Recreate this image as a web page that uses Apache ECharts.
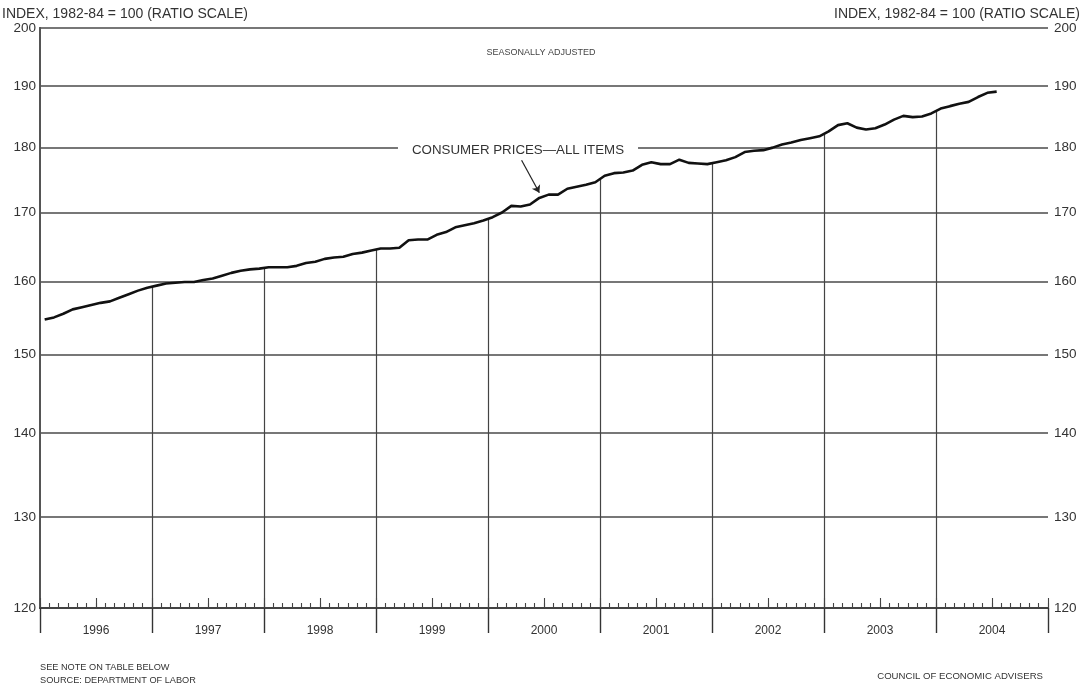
<!DOCTYPE html>
<html><head><meta charset="utf-8">
<script src="https://cdn.jsdelivr.net/npm/echarts@6/dist/echarts.min.js"></script>
<style>html,body{margin:0;padding:0;background:#fff}#c{width:1082px;height:688px}</style>
</head><body><div id="c"></div>
<script>
const years = ['1996','1997','1998','1999','2000','2001','2002','2003','2004'];
const cpi1996 = [154.7,155.0,155.5,156.1,156.4,156.7,157.0,157.2,157.7,158.2,158.7,159.1];
const cpi1997 = [159.4,159.7,159.8,159.9,159.9,160.2,160.4,160.8,161.2,161.5,161.7,161.8];
const cpi1998 = [162.0,162.0,162.0,162.2,162.6,162.8,163.2,163.4,163.5,163.9,164.1,164.4];
const cpi1999 = [164.7,164.7,164.8,165.9,166.0,166.0,166.7,167.1,167.8,168.1,168.4,168.8];
const cpi2000 = [169.3,170.0,171.0,170.9,171.2,172.2,172.7,172.7,173.6,173.9,174.2,174.6];
const cpi2001 = [175.6,176.0,176.1,176.4,177.3,177.7,177.4,177.4,178.1,177.6,177.5,177.4];
const cpi2002 = [177.7,178.0,178.5,179.3,179.5,179.6,180.0,180.5,180.8,181.2,181.5,181.8];
const cpi2003 = [182.6,183.6,183.9,183.2,182.9,183.1,183.7,184.5,185.1,184.9,185.0,185.5];
const cpi2004 = [186.3,186.7,187.1,187.4,188.2,188.9,189.1];
const yTicks = [120,130,140,150,160,170,180,190,200];

const monthly = [].concat(cpi1996,cpi1997,cpi1998,cpi1999,cpi2000,cpi2001,cpi2002,cpi2003,cpi2004);
const lineData = monthly.map((v,i)=>[i+0.5, v]);
const dropLines = [];
for (let k=1;k<years.length;k++){
  const i = 12*k;
  const v = (monthly[i-1]+monthly[i])/2;
  dropLines.push([{coord:[i,120]},{coord:[i,v]}]);
}
const FONT = 'Liberation Sans';
const axisCommon = {min:0,max:108,position:'bottom',axisLabel:{show:false},splitLine:{show:false}};
const chart = echarts.init(document.getElementById('c'));
chart.setOption({
  animation:false,
  textStyle:{fontFamily:FONT},
  grid:{left:40,right:34,top:28,bottom:80},
  xAxis:[
    Object.assign({type:'value',interval:1,
      axisLine:{show:true,onZero:false,lineStyle:{color:'#333',width:1.6}},
      axisTick:{show:true,inside:true,length:5,lineStyle:{color:'#444',width:1.1}}},axisCommon),
    Object.assign({type:'value',interval:6,
      axisLine:{show:false,onZero:false},
      axisTick:{show:true,inside:true,length:10,lineStyle:{color:'#444',width:1.1}}},axisCommon),
    Object.assign({type:'value',interval:12,
      axisLine:{show:false,onZero:false},
      axisTick:{show:true,inside:false,length:25,lineStyle:{color:'#333',width:1.4}}},axisCommon),
    {type:'category',data:years,boundaryGap:true,position:'bottom',
      axisLine:{show:false,onZero:false},axisTick:{show:false},splitLine:{show:false},
      axisLabel:{fontSize:12,color:'#333',margin:17,fontFamily:FONT}}
  ],
  yAxis:[
    {type:'log',logBase:10,min:120,max:200,position:'left',
      axisLine:{show:true,lineStyle:{color:'#555',width:2}},
      axisTick:{show:false,customValues:yTicks},
      axisLabel:{customValues:yTicks,fontSize:13.5,color:'#333',margin:4,fontFamily:FONT},
      splitLine:{show:true,lineStyle:{color:'#4a4a4a',width:1.5}}},
    {type:'log',logBase:10,min:120,max:200,position:'right',
      axisLine:{show:true,lineStyle:{color:'#555',width:2}},
      axisTick:{show:false,customValues:yTicks},
      axisLabel:{customValues:yTicks,fontSize:13.5,color:'#333',margin:6,fontFamily:FONT},
      splitLine:{show:false}}
  ],
  series:[{
    type:'line',xAxisIndex:0,yAxisIndex:0,data:lineData,showSymbol:false,symbol:'none',
    lineStyle:{color:'#111',width:2.6},z:5,
    markLine:{silent:true,symbol:'none',animation:false,label:{show:false},
      lineStyle:{color:'#444',width:1.2,type:'solid'},
      data:dropLines.concat([
        [{coord:[51.6,178.0],symbol:'none'},{coord:[53.5,173.0],symbol:'arrow',symbolSize:7,
          lineStyle:{color:'#222',width:1.2}}]
      ])}
  }],
  graphic:[
    {type:'text',left:2,top:7,style:{text:'INDEX, 1982-84 = 100 (RATIO SCALE)',fontSize:14,fill:'#333',fontFamily:FONT}},
    {type:'text',right:2,top:7,style:{text:'INDEX, 1982-84 = 100 (RATIO SCALE)',fontSize:14,fill:'#333',fontFamily:FONT}},
    {type:'text',x:541,y:53,style:{text:'SEASONALLY ADJUSTED',fontSize:9,fill:'#444',align:'center',verticalAlign:'middle',fontFamily:FONT}},
    {type:'text',x:518,y:150,z:100,style:{text:'CONSUMER PRICES\u2014ALL ITEMS',fontSize:13.3,fill:'#333',align:'center',verticalAlign:'middle',
      backgroundColor:'#fff',padding:[3,14],fontFamily:FONT}},
    {type:'text',left:40,top:661,style:{text:'SEE NOTE ON TABLE BELOW\nSOURCE: DEPARTMENT OF LABOR',fontSize:9.2,lineHeight:13,fill:'#333',fontFamily:FONT}},
    {type:'text',right:39,top:671,style:{text:'COUNCIL OF ECONOMIC ADVISERS',fontSize:9.6,fill:'#333',fontFamily:FONT}}
  ]
});
</script></body></html>
